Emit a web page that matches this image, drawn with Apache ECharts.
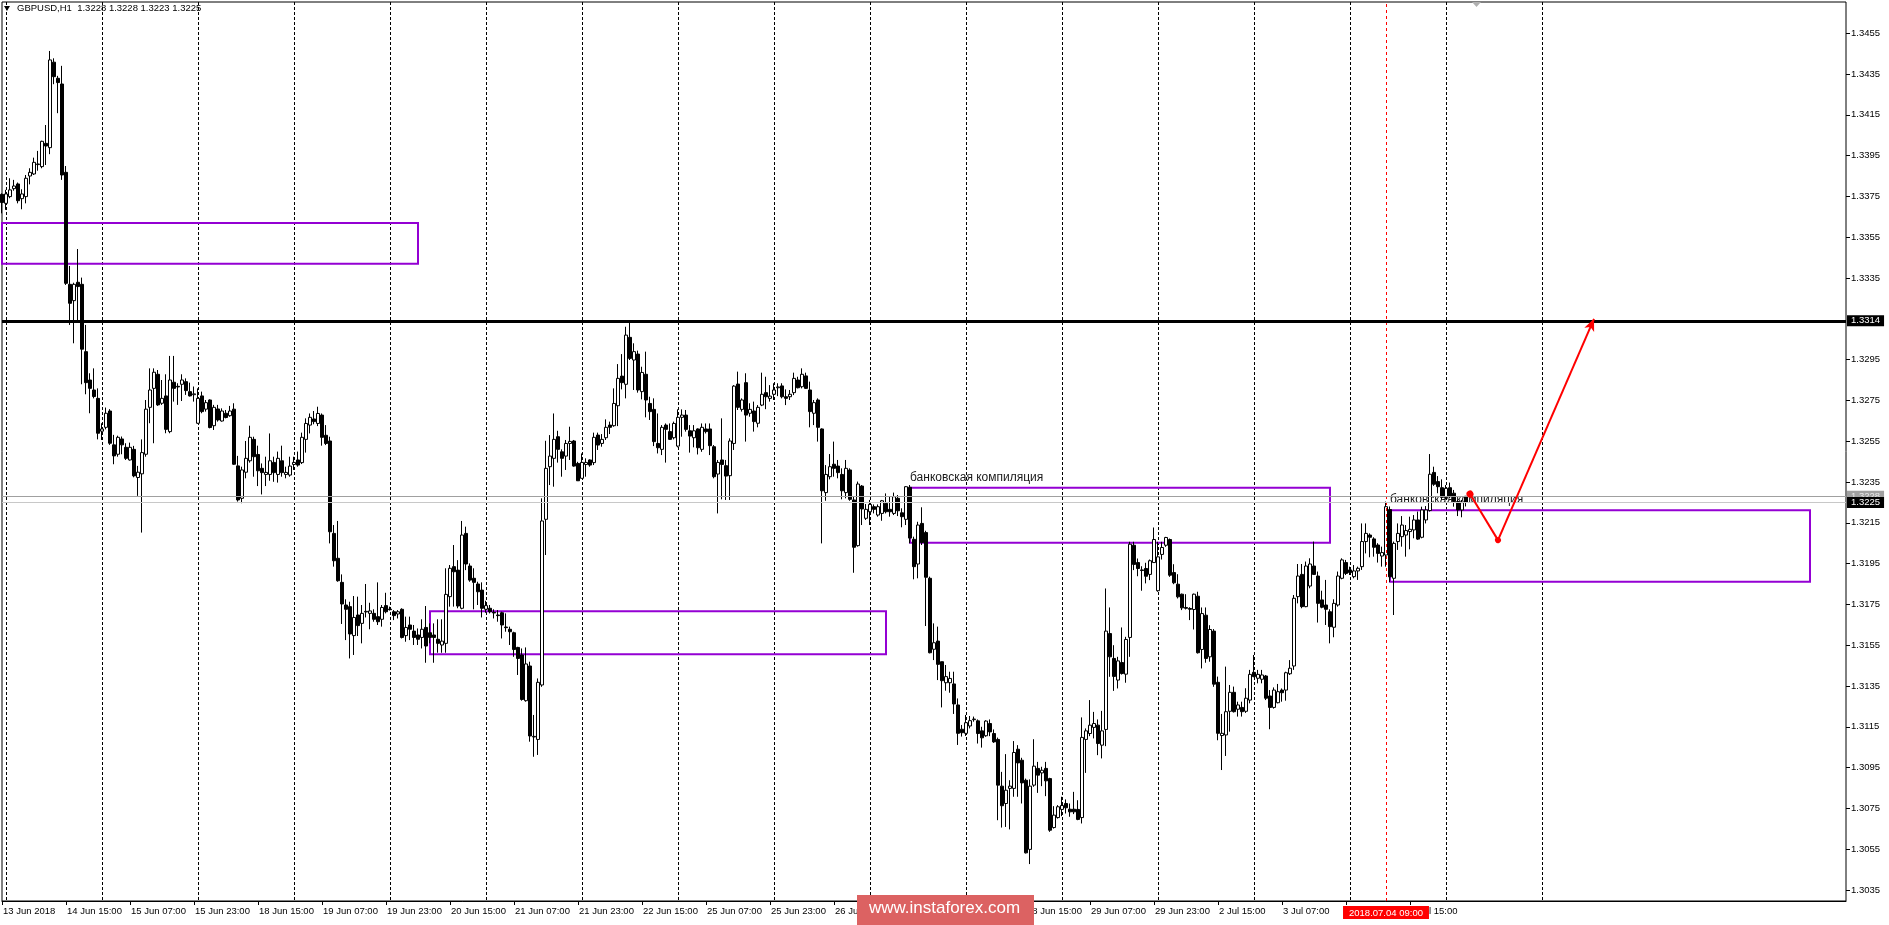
<!DOCTYPE html>
<html><head><meta charset="utf-8">
<script src="https://cdn.jsdelivr.net/npm/echarts@6/dist/echarts.min.js"></script>
<style>html,body{margin:0;padding:0;background:#fff;overflow:hidden}#c{width:1889px;height:925px;}</style>
</head><body><div id="c"></div>
<script>
// ---- GBPUSD H1 bars (index 0 = 13 Jun 2018 23:00) ----
const open = [
1.3376,1.33716,1.33749,1.33788,1.33811,1.33739,1.33749,1.3385,1.3386,1.33906,
1.33896,1.3401,1.33989,1.34408,1.34329,1.34301,1.33868,1.33319,1.33239,1.33329,
1.33319,1.32989,1.3285,1.32801,1.3276,1.32599,1.32618,1.32698,1.32532,1.32486,
1.32561,1.3252,1.32458,1.3251,1.32372,1.3239,1.32486,1.32716,1.32809,1.32878,
1.32736,1.32772,1.32597,1.32839,1.32819,1.32829,1.32842,1.32793,1.32778,1.32638,
1.32772,1.32707,1.32752,1.32626,1.32708,1.32649,1.32687,1.32675,1.32707,1.32429,
1.3227,1.32398,1.32454,1.32559,1.32485,1.32417,1.32387,1.32387,1.32446,1.32387,
1.32454,1.32387,1.32384,1.32436,1.32458,1.32445,1.32559,1.32629,1.32659,1.32637,
1.32678,1.32579,1.32551,1.32098,1.31976,1.31858,1.31747,1.31739,1.31597,1.31698,
1.31657,1.31713,1.31706,1.31706,1.3169,1.31677,1.31744,1.31727,1.31714,1.31703,
1.31726,1.31597,1.31649,1.31619,1.316,1.31588,1.31637,1.31611,1.316,1.31579,
1.31551,1.31559,1.31788,1.31935,1.31918,1.31731,1.32098,1.31938,1.31878,1.3185,
1.3182,1.31726,1.31731,1.31711,1.31698,1.31709,1.31639,1.31628,1.31611,1.31539,
1.31502,1.31278,1.31448,1.31103,1.31088,1.31355,1.32167,1.32425,1.32466,1.32572,
1.32498,1.32477,1.32539,1.32551,1.32441,1.32368,1.32436,1.32458,1.32445,1.3258,
1.32539,1.32567,1.32629,1.32626,1.32724,1.32869,1.32829,1.33059,1.32948,1.32977,
1.32793,1.32878,1.32735,1.32706,1.32539,1.3251,1.32629,1.32597,1.32567,1.32526,
1.32667,1.32678,1.32601,1.32567,1.3261,1.3251,1.3261,1.3261,1.32523,1.32389,
1.32458,1.3243,1.32381,1.32539,1.3283,1.32706,1.32837,1.32687,1.32698,1.32638,
1.32727,1.32788,1.3276,1.3278,1.32812,1.32821,1.32768,1.32768,1.32788,1.3285,
1.32817,1.3287,1.32801,1.32687,1.32752,1.3261,1.32298,1.32376,1.32437,1.32428,
1.32387,1.32298,1.32409,1.32262,1.32038,1.3233,1.32172,1.32204,1.32229,1.32188,
1.32196,1.32245,1.32216,1.32196,1.3227,1.32199,1.32167,1.32324,1.32069,1.31948,
1.32147,1.32102,1.31878,1.3153,1.3157,1.31469,1.31366,1.31366,1.3136,1.31257,
1.31138,1.31118,1.31154,1.31185,1.31179,1.3113,1.31106,1.31166,1.31117,1.31088,
1.30859,1.30774,1.30848,1.30848,1.3104,1.30986,1.30888,1.30549,1.30864,1.30946,
1.30924,1.30946,1.30896,1.30656,1.30705,1.30745,1.30774,1.30746,1.30746,1.30745,
1.30705,1.31088,1.31117,1.31147,1.31158,1.3106,1.31137,1.31607,1.31485,1.31379,
1.31465,1.31408,1.31588,1.3204,1.31955,1.31919,1.31926,1.31897,1.31955,1.31817,
1.31995,1.3204,1.32068,1.31906,1.31849,1.318,1.31735,1.3173,1.31725,1.3179,
1.31529,1.31697,1.31493,1.31619,1.31368,1.31107,1.3111,1.31226,1.31319,1.31236,
1.31245,1.31226,1.31281,1.31417,1.31388,1.31383,1.31399,1.31301,1.31245,1.31268,
1.3133,1.3133,1.3141,1.31448,1.31788,1.31897,1.31739,1.3184,1.31938,1.31889,
1.31772,1.31747,1.31714,1.31638,1.31747,1.31878,1.31955,1.31919,1.31886,1.31914,
1.31935,1.32058,1.3209,1.32071,1.32041,1.31987,1.31992,1.32215,1.31878,1.32058,
1.32082,1.3209,1.32107,1.32115,1.32164,1.32079,1.32164,1.3221,1.32397,1.32352,
1.32322,1.32275,1.32322,1.32295,1.32254,1.32213,1.3228
];
const high = [
1.33765,1.33782,1.33839,1.33831,1.33818,1.33785,1.33855,1.33888,1.3394,1.33973,
1.34023,1.341,1.34463,1.34427,1.34341,1.3439,1.33899,1.33409,1.33327,1.33492,
1.33352,1.3312,1.32883,1.32907,1.32809,1.32638,1.32715,1.32707,1.32581,1.32577,
1.32573,1.3254,1.32543,1.32527,1.32429,1.32559,1.32752,1.32907,1.32907,1.32899,
1.3285,1.32878,1.32968,1.32968,1.32834,1.32878,1.32858,1.32837,1.32818,1.32809,
1.32793,1.32752,1.32755,1.32728,1.32728,1.32711,1.32703,1.32723,1.32736,1.32478,
1.32425,1.32551,1.32626,1.32572,1.32528,1.32441,1.32474,1.32588,1.32474,1.32499,
1.32528,1.32425,1.32474,1.32474,1.32499,1.32592,1.32662,1.32686,1.32698,1.32719,
1.32686,1.32629,1.32572,1.32139,1.32159,1.31897,1.31775,1.31763,1.31791,1.31788,
1.31747,1.3185,1.31758,1.31726,1.31858,1.31747,1.31807,1.31739,1.31722,1.31722,
1.31731,1.3169,1.3169,1.31649,1.31632,1.31677,1.31742,1.31657,1.31657,1.31677,
1.31677,1.31927,1.31943,1.32041,1.31967,1.32159,1.32131,1.31951,1.31927,1.31861,
1.31858,1.31768,1.31747,1.31726,1.31722,1.31714,1.31706,1.31641,1.31616,1.31542,
1.31534,1.31539,1.31469,1.31208,1.31387,1.3227,1.32552,1.3258,1.32686,1.32601,
1.3251,1.32556,1.32621,1.32556,1.32449,1.3249,1.32466,1.32461,1.32592,1.32592,
1.32585,1.32657,1.32646,1.32809,1.32928,1.32977,1.33111,1.33136,1.3303,1.32994,
1.32915,1.32989,1.32768,1.3276,1.32686,1.32629,1.32637,1.32637,1.32646,1.32706,
1.32706,1.32703,1.32629,1.32629,1.32613,1.32637,1.32637,1.32637,1.32531,1.32458,
1.32662,1.32458,1.32564,1.32825,1.32891,1.3276,1.32883,1.32736,1.32744,1.32727,
1.32886,1.32866,1.32825,1.32834,1.32834,1.32834,1.32804,1.32801,1.32886,1.32866,
1.32907,1.32886,1.32842,1.32752,1.3276,1.32613,1.32433,1.32487,1.32548,1.32458,
1.32417,1.32458,1.32417,1.32278,1.32352,1.32335,1.32242,1.32262,1.3224,1.3224,
1.32262,1.32294,1.32281,1.32298,1.32286,1.32221,1.3233,1.32335,1.32082,1.32155,
1.32226,1.32111,1.31886,1.31657,1.31641,1.31469,1.31453,1.3142,1.3142,1.31289,
1.31159,1.31208,1.31203,1.312,1.31186,1.3115,1.31182,1.31186,1.31137,1.31097,
1.30929,1.31016,1.30888,1.3108,1.3106,1.30998,1.30896,1.30892,1.31089,1.30978,
1.30954,1.30978,1.309,1.30761,1.30766,1.30807,1.30794,1.30774,1.30831,1.3079,
1.31196,1.31142,1.31281,1.31223,1.31186,1.31228,1.31828,1.31735,1.3155,1.31493,
1.31637,1.31591,1.32057,1.32057,1.31975,1.31937,1.31954,1.3197,1.32127,1.32057,
1.32057,1.32081,1.32073,1.31947,1.31898,1.31803,1.318,1.31736,1.31803,1.31812,
1.31735,1.31735,1.31648,1.31629,1.31396,1.31213,1.31445,1.31355,1.31347,1.31273,
1.31273,1.31339,1.31429,1.31502,1.31429,1.31429,1.31404,1.3133,1.31343,1.3136,
1.31338,1.3142,1.31477,1.31796,1.31948,1.31948,1.3196,1.31976,1.32058,1.31911,
1.31817,1.3187,1.31726,1.31775,1.31911,1.31976,1.31968,1.31935,1.31943,1.31935,
1.32147,1.32147,1.32098,1.32079,1.3205,1.32033,1.32254,1.3223,1.32058,1.32147,
1.32183,1.32139,1.3218,1.32188,1.32205,1.32229,1.32232,1.32487,1.32425,1.32379,
1.32363,1.32335,1.32347,1.32311,1.32262,1.32262,1.3228
];
const low = [
1.33667,1.33684,1.33741,1.33778,1.33716,1.33687,1.33716,1.33809,1.33855,1.33876,
1.33888,1.33904,1.33957,1.343,1.34158,1.33831,1.33316,1.3312,1.3303,1.33144,
1.32829,1.3278,1.32687,1.3276,1.32559,1.32556,1.32608,1.32532,1.32437,1.32474,
1.32486,1.32458,1.32455,1.32373,1.32282,1.32102,1.32474,1.32638,1.3254,1.32723,
1.32728,1.32589,1.32589,1.32744,1.32728,1.32747,1.32777,1.32769,1.32744,1.32635,
1.32687,1.32695,1.32613,1.32605,1.32646,1.32646,1.32662,1.3267,1.32434,1.32254,
1.32246,1.32368,1.32445,1.32376,1.3233,1.32289,1.3233,1.32356,1.32351,1.32347,
1.32376,1.32368,1.32376,1.32409,1.32425,1.32438,1.32494,1.32588,1.32633,1.32624,
1.32528,1.32531,1.32049,1.31935,1.31861,1.31654,1.31575,1.31485,1.31502,1.31595,
1.31559,1.31686,1.31628,1.31665,1.31649,1.31641,1.31706,1.3172,1.31673,1.31681,
1.31583,1.31567,1.31575,1.31551,1.31551,1.31534,1.31464,1.31559,1.31464,1.31513,
1.31513,1.31513,1.31739,1.31739,1.31731,1.31726,1.31918,1.31861,1.31726,1.31747,
1.31686,1.31709,1.31706,1.31681,1.31665,1.31583,1.31616,1.31551,1.31493,1.31404,
1.31278,1.31273,1.31077,1.31003,1.31012,1.31346,1.31992,1.32335,1.32327,1.32445,
1.32376,1.32409,1.32458,1.32425,1.32356,1.32368,1.32376,1.32425,1.32433,1.32507,
1.32523,1.32556,1.32585,1.32621,1.32624,1.32804,1.3276,1.32948,1.32801,1.32788,
1.32755,1.32667,1.32654,1.32526,1.3249,1.32482,1.32445,1.32556,1.32559,1.3252,
1.32572,1.32597,1.32494,1.3252,1.32485,1.32498,1.32588,1.32482,1.32368,1.32196,
1.32265,1.32262,1.32262,1.32507,1.32703,1.32695,1.32548,1.3267,1.32597,1.32618,
1.32722,1.32707,1.32744,1.32752,1.32771,1.3276,1.32727,1.32752,1.32776,1.32809,
1.32809,1.32806,1.32618,1.32629,1.32548,1.32049,1.32258,1.32363,1.32376,1.32368,
1.32265,1.3227,1.32258,1.31905,1.32033,1.32139,1.32164,1.32139,1.32196,1.3218,
1.3216,1.32196,1.3218,1.32188,1.32183,1.32128,1.32139,1.3205,1.31873,1.31878,
1.32041,1.31644,1.3151,1.31477,1.31379,1.31245,1.31327,1.31317,1.31213,1.31061,
1.31102,1.31105,1.31142,1.31175,1.31068,1.31048,1.31101,1.31104,1.31071,1.30692,
1.30656,1.30659,1.30647,1.30807,1.30807,1.30774,1.30529,1.30477,1.30856,1.30826,
1.30859,1.3081,1.30635,1.30651,1.307,1.30712,1.30725,1.30709,1.30722,1.30692,
1.30676,1.30924,1.31104,1.31093,1.31011,1.30995,1.31055,1.31395,1.31326,1.31338,
1.31406,1.31366,1.31493,1.31918,1.31888,1.31817,1.31853,1.31869,1.31954,1.31812,
1.3197,1.32032,1.31885,1.31849,1.31779,1.31722,1.31725,1.31673,1.31627,1.31509,
1.31436,1.31464,1.31469,1.31346,1.31084,1.30938,1.31007,1.31126,1.3122,1.312,
1.312,1.31218,1.31265,1.31393,1.31363,1.31363,1.31281,1.31138,1.31239,1.31265,
1.31273,1.31278,1.31404,1.31429,1.31755,1.31731,1.31736,1.31829,1.31894,1.31661,
1.31731,1.31649,1.31559,1.31589,1.31739,1.31873,1.31894,1.31894,1.31878,1.3187,
1.31919,1.32,1.31981,1.31984,1.31955,1.31935,1.31935,1.3186,1.31698,1.32017,
1.32033,1.31984,1.3202,1.32074,1.32066,1.32074,1.32147,1.32205,1.32331,1.32295,
1.32262,1.32265,1.3227,1.32229,1.32183,1.32177,1.3223
];
const close = [
1.3372,1.33762,1.33782,1.33801,1.33729,1.33762,1.33839,1.33868,1.33917,1.33909,
1.3402,1.33997,1.34419,1.34337,1.34308,1.33855,1.33324,1.33226,1.33319,1.33308,
1.33001,1.32837,1.32809,1.32769,1.32589,1.3261,1.32687,1.3254,1.32478,1.32569,
1.32532,1.32466,1.3252,1.3238,1.32398,1.32494,1.32707,1.32801,1.32888,1.32728,
1.3276,1.32608,1.3285,1.32809,1.32816,1.3285,1.32798,1.32772,1.32782,1.3276,
1.32695,1.32739,1.32617,1.32716,1.32654,1.32698,1.32666,1.32698,1.32437,1.32262,
1.32409,1.32466,1.32569,1.32474,1.32405,1.32396,1.32397,1.32454,1.32396,1.32466,
1.32396,1.32397,1.32428,1.32446,1.32433,1.32569,1.32637,1.32667,1.32646,1.32686,
1.32569,1.32539,1.32106,1.31964,1.31866,1.31752,1.31726,1.31605,1.31686,1.31646,
1.31706,1.31716,1.31718,1.31677,1.31665,1.31735,1.31714,1.31724,1.31695,1.31714,
1.31588,1.31637,1.31628,1.31588,1.31579,1.31628,1.31546,1.31588,1.31588,1.31559,
1.3157,1.31799,1.31927,1.3191,1.31742,1.3209,1.31948,1.31869,1.31858,1.31812,
1.31731,1.31744,1.31714,1.31708,1.31695,1.31649,1.31636,1.31616,1.31529,1.31485,
1.31284,1.31458,1.31105,1.311,1.31368,1.32159,1.32417,1.32477,1.32559,1.3251,
1.32466,1.32539,1.32549,1.32428,1.32356,1.32446,1.32446,1.32433,1.32569,1.32531,
1.32559,1.32618,1.32618,1.32735,1.32858,1.32837,1.3307,1.32956,1.32989,1.32801,
1.32887,1.32752,1.32695,1.32548,1.32518,1.32618,1.32608,1.32559,1.32637,1.32667,
1.32678,1.32608,1.32575,1.32601,1.32518,1.32618,1.32597,1.32528,1.32376,1.32446,
1.32436,1.32379,1.32551,1.3282,1.32716,1.32752,1.32678,1.32706,1.32646,1.32716,
1.3278,1.32768,1.32771,1.32801,1.32816,1.32768,1.3276,1.3278,1.32858,1.32812,
1.32878,1.32809,1.32695,1.32739,1.32618,1.32307,1.32387,1.32425,1.32417,1.32396,
1.32307,1.32417,1.32265,1.3203,1.3234,1.32218,1.32216,1.3224,1.32216,1.32229,
1.32258,1.32204,1.32204,1.32278,1.32209,1.3218,1.32327,1.32075,1.31935,1.32139,
1.32053,1.31883,1.31513,1.31562,1.31456,1.31376,1.31396,1.31387,1.31262,1.31118,
1.31121,1.3117,1.3118,1.31188,1.31117,1.31096,1.31178,1.31125,1.31076,1.30864,
1.30763,1.30839,1.30859,1.31024,1.30973,1.30875,1.30532,1.30859,1.30957,1.30913,
1.30937,1.30885,1.30643,1.30717,1.30758,1.30764,1.30753,1.30733,1.30733,1.30696,
1.31098,1.3113,1.31158,1.31166,1.31068,1.3113,1.31619,1.31493,1.31397,1.31473,
1.31411,1.31578,1.32045,1.31946,1.31926,1.31916,1.31888,1.31964,1.32068,1.31983,
1.32029,1.32078,1.31893,1.31856,1.31787,1.31733,1.31731,1.31726,1.318,1.31513,
1.31705,1.31485,1.31627,1.31359,1.31118,1.31118,1.31224,1.31319,1.31224,1.31257,
1.31224,1.3129,1.31407,1.31396,1.31407,1.31404,1.3129,1.31245,1.3133,1.31322,
1.31317,1.31415,1.31437,1.3178,1.31889,1.31739,1.31938,1.31948,1.31897,1.31755,
1.31736,1.31726,1.31641,1.31755,1.31889,1.31968,1.31902,1.31906,1.31914,1.31927,
1.32058,1.32098,1.32079,1.3203,1.32,1.32004,1.32229,1.31885,1.32049,1.32098,
1.32139,1.32112,1.32118,1.32164,1.3207,1.32213,1.32213,1.32388,1.32339,1.32327,
1.32275,1.32319,1.32278,1.32254,1.32213,1.32249,1.3225
];
// time-axis labels, one every 16 bars starting at bar 0
const tickLabels = ['13 Jun 2018','14 Jun 15:00','15 Jun 07:00','15 Jun 23:00','18 Jun 15:00','19 Jun 07:00',
 '19 Jun 23:00','20 Jun 15:00','21 Jun 07:00','21 Jun 23:00','22 Jun 15:00','25 Jun 07:00','25 Jun 23:00',
 '26 Jun 15:00','27 Jun 07:00','27 Jun 23:00','28 Jun 15:00','29 Jun 07:00','29 Jun 23:00','2 Jul 15:00',
 '3 Jul 07:00','3 Jul 23:00','4 Jul 15:00'];
const priceTicks = [1.3035,1.3055,1.3075,1.3095,1.3115,1.3135,1.3155,1.3175,1.3195,1.3215,1.3235,
 1.3255,1.3275,1.3295,1.3335,1.3355,1.3375,1.3395,1.3415,1.3435,1.3455];
const symbolName = 'GBPUSD,H1';
const totalSlots = 462;          // bars + chart shift space
const keyLevel = 1.3314;
const secondLevel = 1.3228;
const bidLevel = 1.3225;
const markerBar = 346;
const markerLabel = '2018.07.04 09:00';
const zones = [
  {from: 0,   to: 104, top: 1.3362,  bottom: 1.3342,  label: ''},
  {from: 107, to: 221, top: 1.31717, bottom: 1.31505, label: ''},
  {from: 227, to: 332, top: 1.32322, bottom: 1.32052, label: 'банковская компиляция'},
  {from: 347, to: 452, top: 1.32212, bottom: 1.31861, label: 'банковская компиляция'}
];
const arrowPath = [[367, 1.32291], [374, 1.32065], [398, 1.3315]];

// ---- build ----
const categories = [];
for (let i = 0; i < totalSlots; i++) categories.push(String(i));
const candles = open.map((o, i) => [o, close[i], low[i], high[i]]);
const lastI = open.length - 1;
const FONT = '"Liberation Sans", Arial, sans-serif';

const chart = echarts.init(document.getElementById('c'), null, {renderer: 'canvas'});
const priceLabel = (bg, fg) => ({
  show: true, position: 'end', distance: 1, formatter: p => Number(p.value).toFixed(4),
  backgroundColor: bg, color: fg, fontSize: 9.5, fontFamily: FONT, padding: [1, 4, 0, 4]
});

chart.setOption({
  animation: false,
  backgroundColor: '#ffffff',
  grid: {left: 2, top: 2, right: 43, bottom: 24, show: true, borderColor: '#000', borderWidth: 1, backgroundColor: 'transparent'},
  xAxis: {
    type: 'category', data: categories, boundaryGap: false,
    axisLine: {show: true, lineStyle: {color: '#000', width: 1}},
    axisTick: {show: true, length: 4, interval: (i) => i % 16 === 0 && i <= lastI, lineStyle: {color: '#000'}},
    axisLabel: {
      show: true, interval: (i) => i % 16 === 0 && i <= lastI,
      formatter: (v, i) => tickLabels[Math.round(i / 16)] || '',
      align: 'left', margin: 5, fontSize: 9.5, fontFamily: FONT, color: '#000', padding: [0, 0, 0, 1]
    },
    splitLine: {show: true, interval: (i) => (i - 1) % 24 === 0 && i <= 385,
      lineStyle: {color: '#000', width: 1, type: [3, 2]}}
  },
  yAxis: {
    type: 'value', position: 'right', min: 1.30296, max: 1.34703, scale: true,
    axisLine: {show: false},
    axisTick: {show: true, length: 4, customValues: priceTicks, lineStyle: {color: '#000'}},
    axisLabel: {show: true, customValues: priceTicks, formatter: v => v.toFixed(4), margin: 5,
      fontSize: 9.5, fontFamily: FONT, color: '#000'},
    splitLine: {show: false}
  },
  series: [
    {
      type: 'candlestick', name: symbolName, data: candles, barWidth: 3, clip: true,
      itemStyle: {color: '#ffffff', color0: '#000000', borderColor: '#000000', borderColor0: '#000000', borderWidth: 1},
      emphasis: {disabled: true}
    },
    {
      type: 'line', data: [], clip: false, silent: true,
      markArea: {
        silent: true,
        itemStyle: {color: 'rgba(0,0,0,0)', borderColor: '#9400d3', borderWidth: 2},
        label: {show: false},
        data: zones.map(z => [
          {coord: [z.from, z.top], name: z.label,
           label: {show: !!z.label, position: [1, -3], align: 'left', verticalAlign: 'bottom',
             color: '#1a1a1a', fontSize: 12, fontFamily: FONT}},
          {coord: [z.to, z.bottom]}
        ])
      },
      markLine: {
        silent: true, symbol: 'none', animation: false, precision: 5,
        data: [
          {xAxis: markerBar, lineStyle: {color: '#ff0000', width: 1, type: [3, 3]},
           label: {show: true, position: 'start', distance: 5, formatter: markerLabel,
             backgroundColor: '#ff0000', color: '#ffffff', fontSize: 9.5, fontFamily: FONT, padding: [2, 6, 1, 6]}},
          {yAxis: secondLevel, lineStyle: {color: '#a0a0a0', width: 1, type: 'solid'}, label: priceLabel('#a0a0a0', '#e8e8e8')},
          {yAxis: bidLevel, lineStyle: {color: '#c8c8c8', width: 1, type: 'solid'}, label: priceLabel('#000000', '#ffffff')},
          {yAxis: keyLevel, lineStyle: {color: '#000000', width: 3, type: 'solid'}, label: priceLabel('#000000', '#ffffff')},
          [{coord: arrowPath[0], symbol: 'circle', symbolSize: 7}, {coord: arrowPath[1], symbol: 'circle', symbolSize: 6,
            lineStyle: {color: '#ff0000', width: 2, type: 'solid'}, label: {show: false}}],
          [{coord: arrowPath[1], symbol: 'none'}, {coord: arrowPath[2], symbol: 'arrow', symbolSize: [8, 12],
            lineStyle: {color: '#ff0000', width: 2, type: 'solid'}, label: {show: false}}]
        ].map(d => Array.isArray(d) ? d.map(p => Object.assign({itemStyle: {color: '#ff0000'}}, p)) : d),
        lineStyle: {color: '#ff0000', width: 2, type: 'solid'},
        label: {show: false}
      }
    }
  ],
  graphic: [
    {type: 'polygon', shape: {points: [[4, 6], [10, 6], [7, 11]]}, style: {fill: '#000'}, z: 100},
    {type: 'text', left: 17, top: 3, z: 100,
     style: {text: symbolName + '  ' + [open[lastI], high[lastI], low[lastI], close[lastI]].map(v => v.toFixed(4)).join(' '),
       fill: '#000', font: '9.5px ' + FONT}},
    {type: 'polygon', shape: {points: [[1472, 2], [1481, 2], [1476.5, 7]]}, style: {fill: '#b0b0b0'}, z: 100},
    {type: 'rect', left: 857, top: 895, zlevel: 5, z: 200,
     shape: {width: 177, height: 30}, style: {fill: '#dc6262'}},
    {type: 'text', left: 'center', top: 900, zlevel: 5, z: 201, x: 0,
     position: [945.5, 910], style: {text: 'www.instaforex.com', fill: '#ffffff', font: '17px ' + FONT}}
  ]
});
</script>
</body></html>
